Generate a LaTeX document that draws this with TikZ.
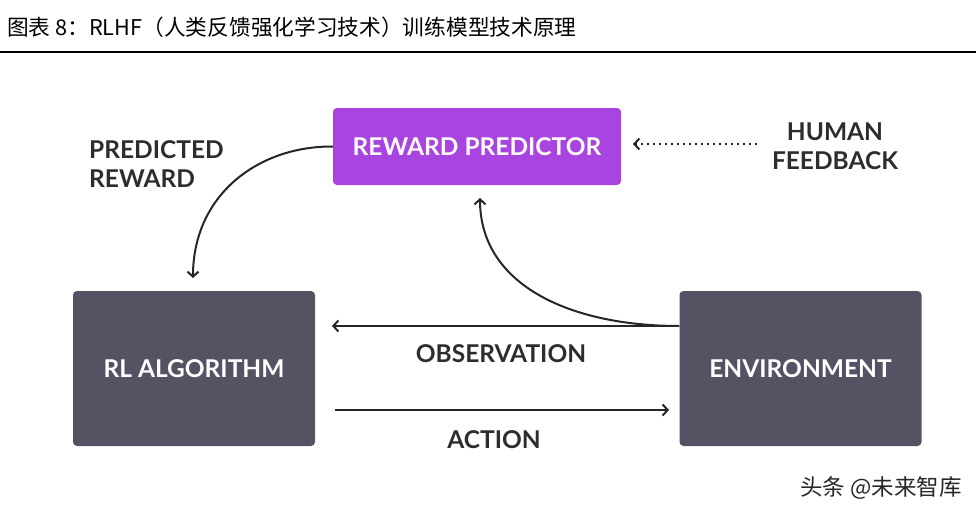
\documentclass[tikz,border=0pt]{standalone}
\usepackage{fontspec}
\setmainfont{Lato}
\newfontfamily\cjk{Noto Sans CJK SC}
\newfontfamily\lab{Lato Bold}
\usetikzlibrary{arrows.meta}
\definecolor{rpurple}{RGB}{168,68,224}
\definecolor{boxgray}{RGB}{86,82,100}
\definecolor{labgray}{RGB}{45,45,45}
\tikzset{
  rbox/.style={draw=none, fill=boxgray, rounded corners=4pt, minimum width=242pt, minimum height=155pt, text=white, font=\lab\fontsize{24.5}{26}\selectfont},
  pbox/.style={draw=none, fill=rpurple, rounded corners=4pt, minimum width=288pt, minimum height=77pt, text=white!92!pink, font=\lab\fontsize{24.5}{26}\selectfont},
  lbl/.style={text=labgray, font=\lab\fontsize{24.5}{28.5}\selectfont, align=left, inner sep=0pt},
  conn/.style={line width=2pt, draw=black!85, -{Straight Barb[length=5pt,width=11pt,line width=2pt]}},
}
\begin{document}
\begin{tikzpicture}[x=1pt,y=-1pt]
\useasboundingbox (0,0) rectangle (976,514);
\node[anchor=west, inner sep=0pt, font=\cjk\fontsize{21.7}{24}\selectfont] (title) at (7,27) {图表 8：RLHF（人类反馈强化学习技术）训练模型技术原理};
\draw[line width=2.5pt] (0,52) -- (976,52);
\node[pbox] (rp) at (477,146.5) {REWARD PREDICTOR};
\node[rbox] (rl) at (194,368.5) {RL ALGORITHM};
\node[rbox] (env) at (800.5,368.5) {ENVIRONMENT};
\node[lbl, align=center] (hf) at (835,146) {HUMAN\\FEEDBACK};
\node[lbl, anchor=west] (pr) at (89,164) {PREDICTED\\REWARD};
\node[lbl] (obs) at (501,354) {OBSERVATION};
\node[lbl] (act) at (494,440) {ACTION};
\node[anchor=east, inner sep=0pt, font=\cjk\fontsize{22.5}{25}\selectfont, text=black!85] (wm) at (962,488) {头条 @未来智库};
\coordinate (hfs) at (757,144);
\coordinate (hfe) at (633,144);
\draw[line width=2pt, draw=black!85, dash pattern=on 2pt off 4pt, -{Straight Barb[length=5pt,width=11pt,line width=2pt]}] (hfs) -- (hfe);
\coordinate (obsS) at ([yshift=42.5pt]env.west);
\coordinate (obsE) at (332,326);
\draw[conn] (obsS) -- (obsE);
\coordinate (actS) at (335,410);
\coordinate (actE) at (669,410);
\draw[conn] (actS) -- (actE);
\draw[conn] (rp.west) .. controls (258,146) and (193,195) .. (193,278);
\draw[conn] (obsS) .. controls (570,326) and (480,285) .. (480,198);
\end{tikzpicture}
\end{document}
